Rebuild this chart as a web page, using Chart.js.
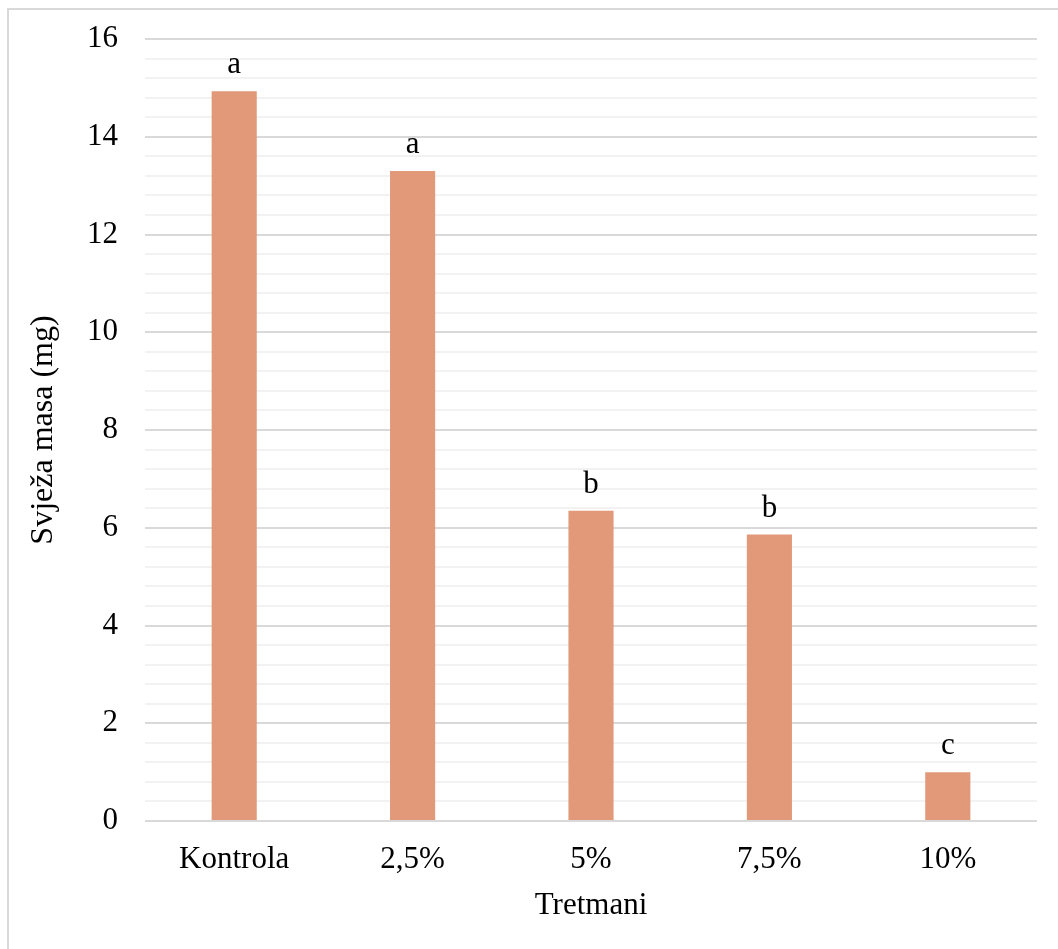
<!DOCTYPE html>
<html>
<head>
<meta charset="utf-8">
<script src="https://cdn.jsdelivr.net/npm/chart.js@4"></script>
<style>
html,body{margin:0;padding:0;background:#fff;}
#wrap{position:relative;width:1058px;height:949px;overflow:hidden;}
#frame{position:absolute;left:7px;top:8px;width:1100px;height:1000px;border:2px solid #d9d9d9;box-sizing:border-box;}
canvas{position:absolute;left:0;top:0;}
</style>
</head>
<body>
<div id="wrap">
<div id="frame"></div>
<canvas id="c" width="1058" height="949"></canvas>
</div>
<script>
const categories = ["Kontrola", "2,5%", "5%", "7,5%", "10%"];
const values = [14.93, 13.30, 6.35, 5.86, 1.00];
const letters = ["a", "a", "b", "b", "c"];
const yTitle = "Svježa masa (mg)";
const xTitle = "Tretmani";

const FONT = "'Liberation Serif', 'Times New Roman', serif";

const letterPlugin = {
  id: 'letters',
  afterDatasetsDraw(chart) {
    const ctx = chart.ctx;
    const meta = chart.getDatasetMeta(0);
    ctx.save();
    ctx.font = "31px " + FONT;
    ctx.fillStyle = "#000";
    ctx.textAlign = "center";
    ctx.textBaseline = "alphabetic";
    meta.data.forEach((bar, i) => {
      ctx.fillText(letters[i], bar.x, bar.y - 18);
    });
    ctx.restore();
  }
};

function isMajor(v) {
  return Math.abs(v / 2 - Math.round(v / 2)) < 1e-6;
}

new Chart(document.getElementById('c'), {
  type: 'bar',
  data: {
    labels: categories,
    datasets: [{
      data: values,
      backgroundColor: '#E1997A',
      borderWidth: 0,
      barPercentage: 0.253,
      categoryPercentage: 1.0
    }]
  },
  options: {
    responsive: false,
    animation: false,
    layout: { padding: { left: 10, right: 21, top: 39, bottom: 10 } },
    plugins: { legend: { display: false }, tooltip: { enabled: false } },
    scales: {
      x: {
        grid: { display: false, drawTicks: false },
        border: { display: false },
        ticks: { color: '#000', font: { family: FONT, size: 31 }, padding: 20, maxRotation: 0 },
        title: { display: true, text: xTitle, color: '#000', font: { family: FONT, size: 31 }, padding: { top: 0, bottom: 15 } },
        afterFit(scale) { scale.height = 118; scale.paddingLeft = 0; scale.paddingRight = 0; }
      },
      y: {
        min: 0, max: 16,
        grid: {
          drawTicks: false,
          color: (ctx) => isMajor(ctx.tick.value) ? '#d9d9d9' : '#f2f2f2',
          lineWidth: 2
        },
        border: { display: false },
        ticks: {
          stepSize: 0.4,
          autoSkip: false,
          color: '#000',
          font: { family: FONT, size: 31 },
          padding: 27,
          callback: (v) => isMajor(v) ? String(Math.round(v)) : ''
        },
        title: { display: true, text: yTitle, color: '#000', font: { family: FONT, size: 32 }, padding: { top: 14, bottom: 0 } },
        afterFit(scale) { scale.width = 135; scale.paddingTop = 0; scale.paddingBottom = 0; }
      }
    }
  },
  plugins: [letterPlugin]
});
</script>
</body>
</html>
